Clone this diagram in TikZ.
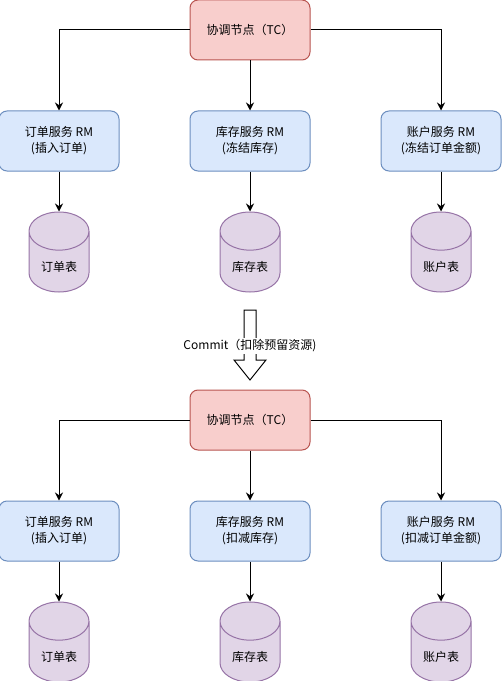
\documentclass[tikz,border=0pt]{standalone}
\usepackage{fontspec}
\setmainfont{Noto Sans CJK SC}
\usetikzlibrary{arrows.meta,positioning,shapes.geometric}
\definecolor{tcfill}{HTML}{F8CECC}
\definecolor{tcline}{HTML}{B85450}
\definecolor{rmfill}{HTML}{DAE8FC}
\definecolor{rmline}{HTML}{6C8EBF}
\definecolor{dbfill}{HTML}{E1D5E7}
\definecolor{dbline}{HTML}{9673A6}
\tikzset{
  tcnode/.style={draw=tcline, line width=0.75pt, fill=tcfill, rounded corners=6pt,
                 minimum height=45pt, minimum width=90pt, align=center},
  rmnode/.style={draw=rmline, line width=0.75pt, fill=rmfill, rounded corners=6pt,
                 minimum height=45pt, minimum width=90pt, align=center},
  dbnode/.style={cylinder, shape border rotate=90, aspect=0.85, draw=dbline,
                 line width=0.75pt, fill=dbfill, minimum width=45pt, minimum height=60pt},
  flow/.style={-{Stealth[length=6pt,width=6pt,inset=2pt]}, line width=0.75pt},
  bigarrow/.style={draw, line width=0.75pt, fill=white},
}

\begin{document}
\begin{tikzpicture}[x=0.75pt, y=-0.75pt, node distance=37.5pt and 52.5pt,
  every node/.style={font=\fontsize{9pt}{12pt}\selectfont}]
\useasboundingbox (0,0) rectangle (501,681);

% prepare phase
\node[tcnode] (tc1) at (250,30) {协调节点（TC）};
\node[rmnode, below=of tc1] (stk1) {库存服务 RM\\(冻结库存)};
\node[rmnode, left=of stk1] (ord1) {订单服务 RM\\(插入订单)};
\node[rmnode, right=of stk1] (acc1) {账户服务 RM\\(冻结订单金额)};
\node[dbnode, below=30pt of ord1] (ordb1) {订单表};
\node[dbnode, below=30pt of stk1] (stkdb1) {库存表};
\node[dbnode, below=30pt of acc1] (accdb1) {账户表};

\draw[flow] (tc1.west) -| (ord1.north);
\draw[flow] (tc1) -- (stk1);
\draw[flow] (tc1.east) -| (acc1.north);
\draw[flow] (ord1) -- (ordb1);
\draw[flow] (stk1) -- (stkdb1);
\draw[flow] (acc1) -- (accdb1);

% commit
\draw[bigarrow] (244,310) -- (256,310) -- (256,360) -- (266,360) -- (250,380)
  -- (234,360) -- (244,360) -- cycle;
\node[fill=white, inner sep=1pt] (commit) at (250,346) {Commit（扣除预留资源)};

% commit phase
\node[tcnode] (tc2) at (250,420) {协调节点（TC）};
\node[rmnode, below=of tc2] (stk2) {库存服务 RM\\(扣减库存)};
\node[rmnode, left=of stk2] (ord2) {订单服务 RM\\(插入订单)};
\node[rmnode, right=of stk2] (acc2) {账户服务 RM\\(扣减订单金额)};
\node[dbnode, below=30pt of ord2] (ordb2) {订单表};
\node[dbnode, below=30pt of stk2] (stkdb2) {库存表};
\node[dbnode, below=30pt of acc2] (accdb2) {账户表};

\draw[flow] (tc2.west) -| (ord2.north);
\draw[flow] (tc2) -- (stk2);
\draw[flow] (tc2.east) -| (acc2.north);
\draw[flow] (ord2) -- (ordb2);
\draw[flow] (stk2) -- (stkdb2);
\draw[flow] (acc2) -- (accdb2);
\end{tikzpicture}
\end{document}
